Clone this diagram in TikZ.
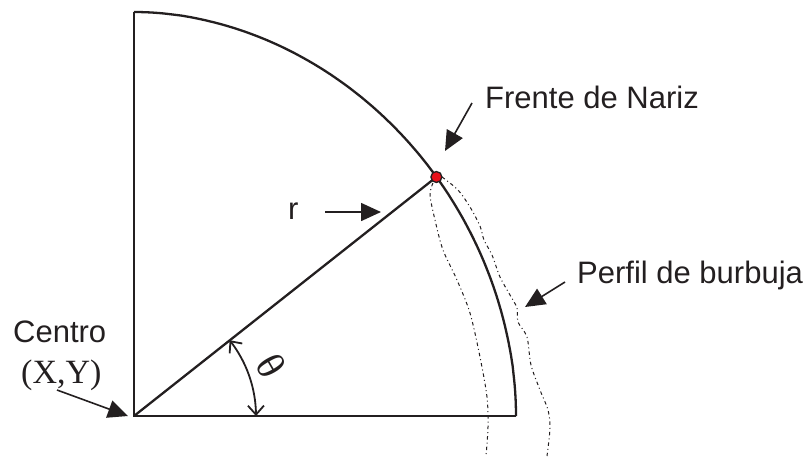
\documentclass[tikz,border=0pt]{standalone}
\usepackage{fontspec}
\setmainfont{Liberation Sans}
\newfontfamily\serifx{Liberation Serif}
\usetikzlibrary{arrows.meta}
\definecolor{ln}{HTML}{231F20}
\definecolor{dotred}{HTML}{E8111B}
\begin{document}
\begin{tikzpicture}[x=1pt,y=-1pt,
  lbl/.style={inner sep=0pt, anchor=base west, font=\fontsize{31}{36}\selectfont, text=ln},
  edge/.style={draw=ln, line width=2.3pt, line join=miter},
  ptr/.style={draw=ln, line width=1.6pt, -{Triangle[length=20pt,width=18pt]}},
  angarr/.style={draw=ln, line width=1.8pt, {Straight Barb[length=9pt,width=16pt,line width=1.8pt]}-{Straight Barb[length=9pt,width=16pt,line width=1.8pt]}},
  prof/.style={draw=ln, line width=1pt, dash pattern=on 3.5pt off 3pt on 1pt off 3pt},
]
\useasboundingbox (0,0) rectangle (812,456);

% main geometry
\coordinate (O) at (134,416);
\coordinate (T) at (134,12);
\coordinate (E) at (516,416);
\coordinate (N) at (436.4,177);

\draw[edge] (T) -- (O) -- (E);
\draw[edge] (O) -- (N);
\draw[edge, line cap=butt] plot[domain=90:0, samples=120]
  ({134+382*pow(max(cos(\x),0),1.036)}, {416-404*pow(max(sin(\x),0),1.036)});

% bubble profiles
\draw[prof] plot[smooth, tension=0.5] coordinates
  {(433,183) (430,195) (435,220) (443,250) (457,280) (470,313) (480,357) (487,397) (488,427) (486,456)};
\draw[prof] plot[smooth, tension=0.5] coordinates
  {(442,177) (458,190) (470,207) (480,226) (484,240) (492,255) (500,277) (510,295) (517,308) (518,322) (527,337) (531,365) (540,390) (548,410) (550,428) (547,456)};

% angle
\draw[angarr] plot[domain=38.4:0, samples=40] ({134+122*cos(\x)}, {416-122*sin(\x)});
\node[inner sep=0pt, rotate=-60, font=\serifx\fontsize{40}{42}\selectfont, text=ln] (theta) at (271,366) {θ};

% nose point
\node[circle, fill=dotred, draw=ln, line width=1.3pt, minimum size=11pt, inner sep=0pt] (dot) at (N) {};

% labels
\node[lbl] (frente) at (485,108) {Frente de Nariz};
\node[lbl] (perfil) at (577,283) {Perfil de burbuja};
\node[lbl] (r) at (288,219) {r};
\node[lbl] (centro) at (13,342) {Centro};
\node[inner sep=0pt, anchor=base west, font=\serifx\fontsize{34}{36}\selectfont, text=ln] (xy) at (21,383) {(X,Y)};

% pointer arrows
\coordinate (fa) at (472,103);
\coordinate (fb) at (445,151);
\coordinate (pa) at (565,282);
\coordinate (pb) at (525,307);
\coordinate (ra) at (325,212);
\coordinate (rb) at (381,212);
\coordinate (ca) at (57,390);
\coordinate (cb) at (128,416);
\draw[ptr] (fa) -- (fb);
\draw[ptr] (pa) -- (pb);
\draw[ptr] (ra) -- (rb);
\draw[ptr] (ca) -- (cb);
\end{tikzpicture}
\end{document}
